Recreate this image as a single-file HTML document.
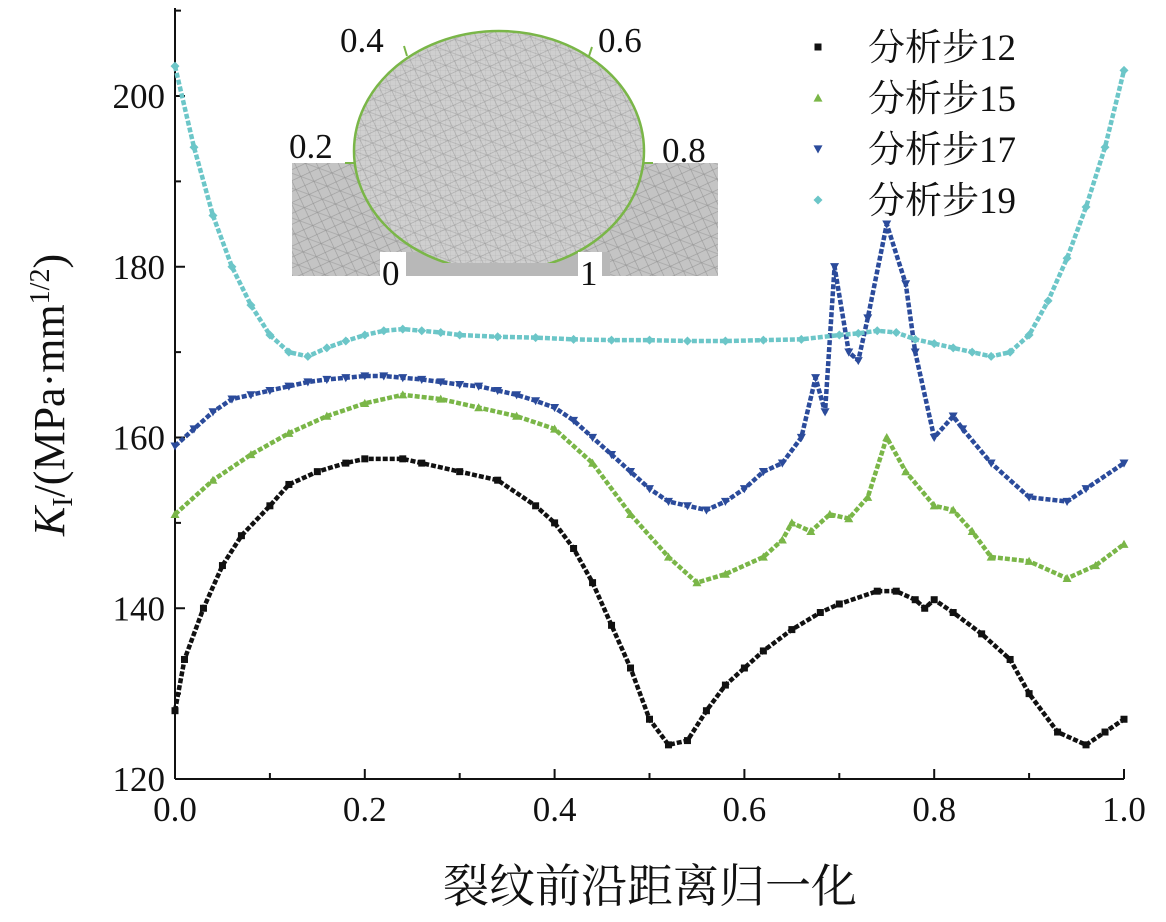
<!DOCTYPE html>
<html><head><meta charset="utf-8"><style>
html,body{margin:0;padding:0;background:#fff;}
svg{display:block;}
text{font-family:"Liberation Serif","Noto Serif CJK SC",serif;fill:#111;}
</style></head><body>
<svg id="chart" width="1166" height="922" viewBox="0 0 1166 922">
<defs>
<pattern id="mesh" width="14" height="14" patternUnits="userSpaceOnUse" patternTransform="rotate(20)">
<path d="M0 0L14 14M0 14L14 0M0 7H14" stroke="#777" stroke-width="0.6" fill="none"/>
</pattern>
<pattern id="meshfine" width="5" height="5" patternUnits="userSpaceOnUse">
<path d="M0 0H5M0 0V5" stroke="#888" stroke-width="0.4" fill="none"/>
</pattern>
<clipPath id="ellclip"><rect x="340" y="20" width="320" height="243"/></clipPath>
</defs>
<g id="inset">
<rect x="292" y="163" width="426" height="113" fill="#c4c4c4"/>
<rect x="292" y="163" width="426" height="113" fill="url(#mesh)" opacity="0.6"/>
<rect x="380" y="252" width="230" height="24" fill="#b8b8b8"/>
<g clip-path="url(#ellclip)">
<ellipse cx="499" cy="151" rx="145" ry="120" fill="#cfcfcf"/>
<ellipse cx="499" cy="151" rx="145" ry="120" fill="url(#meshfine)" opacity="0.5"/>
<ellipse cx="499" cy="151" rx="145" ry="120" fill="url(#mesh)" opacity="0.5"/>
<ellipse cx="499" cy="151" rx="145" ry="120" fill="none" stroke="#7ab648" stroke-width="2.5"/>
</g>
<g stroke="#7ab648" stroke-width="2">
<line x1="404" y1="46" x2="407" y2="56"/><line x1="592" y1="47" x2="589" y2="56"/>
<line x1="345" y1="163" x2="355" y2="163"/><line x1="643" y1="163" x2="653" y2="163"/>
</g>
<rect x="380" y="252" width="26" height="36" fill="#fff"/>
<rect x="578" y="252" width="24" height="36" fill="#fff"/>
<text x="340" y="52" font-size="35">0.4</text>
<text x="598" y="52" font-size="35">0.6</text>
<text x="289" y="158" font-size="35">0.2</text>
<text x="662" y="162" font-size="35">0.8</text>
<text x="382" y="285" font-size="35">0</text>
<text x="580" y="285" font-size="35">1</text>
</g>
<g id="axes"></g>
<g id="series"></g>
<g id="legend"></g>
</svg>
<script>
const xTicks=[0,0.2,0.4,0.6,0.8,1.0];
const xTickLabels=["0.0","0.2","0.4","0.6","0.8","1.0"];
const yTicks=[120,140,160,180,200];
const yTickLabels=["120","140","160","180","200"];
const seriesNames=["分析步12","分析步15","分析步17","分析步19"];
const x12=[0,.01,.03,.05,.07,.1,.12,.15,.18,.2,.24,.26,.3,.34,.38,.4,.42,.44,.46,.48,.5,.52,.54,.56,.58,.6,.62,.65,.68,.7,.74,.76,.78,.79,.8,.82,.85,.88,.9,.93,.96,.98,1.0];
const y12=[128,134,140,145,148.5,152,154.5,156,157,157.5,157.5,157,156,155,152,150,147,143,138,133,127,124,124.5,128,131,133,135,137.5,139.5,140.5,142,142,141,140,141,139.5,137,134,130,125.5,124,125.5,127];
const x15=[0,.04,.08,.12,.16,.2,.24,.28,.32,.36,.4,.44,.48,.52,.55,.58,.62,.64,.65,.67,.69,.71,.73,.75,.77,.8,.82,.84,.86,.9,.94,.97,1.0];
const y15=[151,155,158,160.5,162.5,164,165,164.5,163.5,162.5,161,157,151,146,143,144,146,148,150,149,151,150.5,153,160,156,152,151.5,149,146,145.5,143.5,145,147.5];
const x17=[0,.02,.04,.06,.08,.1,.12,.14,.16,.18,.2,.22,.24,.26,.28,.3,.32,.34,.36,.38,.4,.42,.44,.46,.48,.5,.52,.54,.56,.58,.6,.62,.64,.66,.675,.685,.695,.71,.72,.73,.75,.77,.78,.8,.82,.83,.86,.9,.94,.96,1.0];
const y17=[159,161,163,164.5,165,165.5,166,166.5,166.8,167,167.2,167.2,167,166.8,166.5,166.2,166,165.5,165,164.3,163.5,162,160,158,156,154,152.5,152,151.5,152.5,154,156,157,160,167,163,180,170,169,174,185,178,170,160,162.5,161,157,153,152.5,154,157];
const x19=[0,.02,.04,.06,.08,.1,.12,.14,.16,.18,.2,.22,.24,.26,.28,.3,.34,.38,.42,.46,.5,.54,.58,.62,.66,.7,.72,.74,.76,.78,.8,.82,.84,.86,.88,.9,.92,.94,.96,.98,1.0];
const y19=[203.5,194,186,180,175.5,172,170,169.5,170.5,171.3,172,172.5,172.7,172.5,172.3,172,171.8,171.7,171.5,171.4,171.4,171.3,171.3,171.4,171.5,172,172.2,172.5,172.3,171.5,171,170.5,170,169.5,170,172,176,181,187,194,203];

const NS="http://www.w3.org/2000/svg";
const X0=175,X1=1124,Y0=779,Y1=96;
const xs=v=>X0+(X1-X0)*v;
const ys=v=>Y0-(Y0-Y1)*(v-120)/80;
function mk(tag,attrs,parent){const e=document.createElementNS(NS,tag);for(const k in attrs)e.setAttribute(k,attrs[k]);parent.appendChild(e);return e;}
const axes=document.getElementById('axes');
let l=mk('line',{x1:X0,y1:8,x2:X0,y2:Y0,stroke:'#111','stroke-width':2},axes);


l=mk('line',{x1:X0,y1:Y0,x2:X1,y2:Y0,stroke:'#111','stroke-width':2},axes);


for(let i=0;i<=10;i++){const v=i/10;const t=mk('line',{x1:xs(v),y1:Y0,x2:xs(v),y2:Y0-(i%2?6:10),stroke:'#111','stroke-width':2},axes);

}
for(let v=120;v<=210;v+=10){const t=mk('line',{x1:X0,y1:ys(v),x2:X0+(v%20?6:10),y2:ys(v),stroke:'#111','stroke-width':2},axes);

}
xTicks.forEach((v,i)=>{const t=mk('text',{x:xs(v),y:Y0+42,'font-size':35,'text-anchor':'middle'},axes);t.textContent=xTickLabels[i];

});
yTicks.forEach((v,i)=>{const t=mk('text',{x:X0-10,y:ys(v)+12,'font-size':35,'text-anchor':'end'},axes);t.textContent=yTickLabels[i];

});
let xt=mk('text',{x:650,y:902,'font-size':46,'text-anchor':'middle'},axes);xt.textContent='裂纹前沿距离归一化';


let yt=mk('text',{transform:'translate(64,395) rotate(-90)','font-size':44,'text-anchor':'middle'},axes);
yt.innerHTML='<tspan font-style="italic">K</tspan><tspan font-size="28" dy="8">I</tspan><tspan dy="-8">/(MPa·mm</tspan><tspan font-size="28" dy="-15">1/2</tspan><tspan dy="15">)</tspan>';



const colors=['#111111','#7ab648','#2b4b9b','#6cc6c8'];
const shapes=['sq','up','down','dia'];
function marker(shape,cx,cy,c,parent){
  const s=4.5;
  if(shape==='sq')return mk('rect',{x:cx-3.5,y:cy-3.5,width:7,height:7,fill:c},parent);
  if(shape==='up')return mk('polygon',{points:`${cx},${cy-s} ${cx+s},${cy+s*0.8} ${cx-s},${cy+s*0.8}`,fill:c},parent);
  if(shape==='down')return mk('polygon',{points:`${cx},${cy+s} ${cx+s},${cy-s*0.8} ${cx-s},${cy-s*0.8}`,fill:c},parent);
  return mk('polygon',{points:`${cx},${cy-s} ${cx+s},${cy} ${cx},${cy+s} ${cx-s},${cy}`,fill:c},parent);
}
const sg=document.getElementById('series');
const data=[[x12,y12],[x15,y15],[x17,y17],[x19,y19]];
data.forEach(([xa,ya],k)=>{
  const g=mk('g',{},sg);
  
  
  const pts=xa.map((x,i)=>xs(x)+','+ys(ya[i])).join(' ');
  const pl=mk('polyline',{points:pts,fill:'none',stroke:colors[k],'stroke-width':4.5,'stroke-dasharray':'5 2','stroke-linejoin':'round'},g);
  
  
  xa.forEach((x,i)=>{const m=marker(shapes[k],xs(x),ys(ya[i]),colors[k],g);
    
    });
});
const lg=document.getElementById('legend');
seriesNames.forEach((n,k)=>{
  const y=47+k*51;
  const g=mk('g',{},lg);
  
  
  marker(shapes[k],818,y,colors[k],g);
  const t=mk('text',{x:868,y:y+13,'font-size':37},g);t.textContent=n;
});
</script>
</body></html>
